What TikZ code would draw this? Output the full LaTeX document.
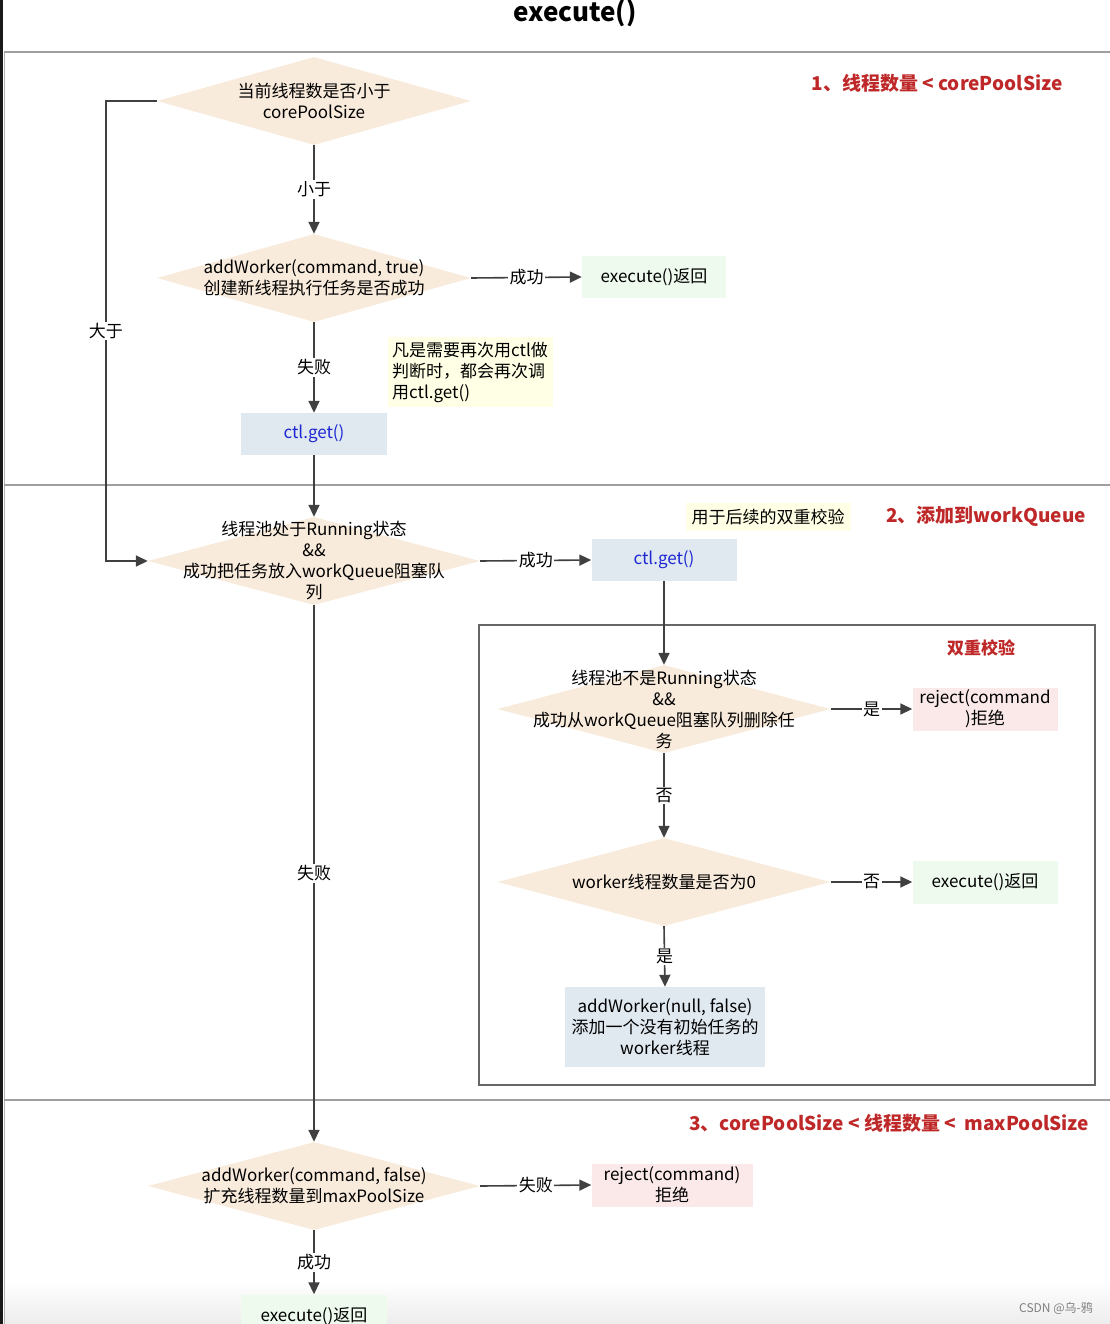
\documentclass[tikz,border=0pt]{standalone}
\usepackage{fontspec}
\setmainfont{Noto Sans CJK SC}
\usetikzlibrary{shapes.geometric,arrows.meta}
\definecolor{diafill}{RGB}{249,235,220}
\definecolor{bluefill}{RGB}{224,232,240}
\definecolor{greenfill}{RGB}{238,250,238}
\definecolor{pinkfill}{RGB}{251,233,233}
\definecolor{notefill}{RGB}{255,255,229}
\definecolor{linecol}{RGB}{64,64,64}
\definecolor{redtext}{RGB}{190,40,40}
\definecolor{bluetext}{RGB}{30,40,210}
\newcommand{\txtsize}{\fontsize{17}{21}\selectfont}
\newcommand{\redsize}{\fontsize{19}{23}\selectfont\bfseries}

\tikzset{
  decision/.style={diamond, fill=diafill, inner sep=0pt, minimum height=88},
  dlabel/.style={align=center, font=\txtsize, inner sep=0pt},
  box/.style={rectangle, minimum width=146, minimum height=42, align=center, font=\txtsize, inner sep=0pt},
  notebox/.style={rectangle, fill=notefill, align=left, font=\txtsize, inner sep=3pt},
  flow/.style={draw=linecol, line width=1.6pt, -{Triangle[length=12pt,width=11pt]}},
  elabel/.style={fill=white, inner sep=1.5pt, font=\txtsize},
  part/.style={draw=gray!75, line width=1.5pt},
  redlabel/.style={text=redtext, font=\redsize}
}

\begin{document}
\begin{tikzpicture}[x=1pt, y=-1pt]
\useasboundingbox (0,0) rectangle (1110,1324);
\shade[top color=white, bottom color=black!7] (4,1280) rectangle (1110,1324);
%frame
\fill[black!90] (0,0) rectangle (3,1324);
\draw[gray!60, line width=1pt] (4,52) -- (4,1324);
\draw[part] (4,52) -- (1110,52);
\draw[part] (4,485) -- (1110,485);
\draw[part] (4,1100) -- (1110,1100);
\draw[gray!80!black, line width=1.3pt] (479,625) rectangle (1095,1085);
\node[font=\fontsize{26}{30}\selectfont\bfseries] (title) at (575,13) {execute()};
\node[redlabel] (r1) at (937,83) {1、线程数量\ <\ corePoolSize};
\node[redlabel] (r2) at (986,516) {2、添加到workQueue};
\node[redlabel, font=\fontsize{17}{21}\selectfont\bfseries] (r3) at (981,648) {双重校验};
\node[redlabel] (r4) at (889,1123) {3、corePoolSize\ <\ 线程数量\ <\ \ maxPoolSize};
\node[text=gray, font=\fontsize{12}{14}\selectfont] (mark) at (1056,1308) {CSDN @乌-鸦};

%section 1
\node[decision, minimum width=314, label={[dlabel]center:{当前线程数是否小于\\corePoolSize}}] (d1) at (314,101) {};
\node[decision, minimum width=314, label={[dlabel]center:{addWorker(command, true)\\创建新线程执行任务是否成功}}] (d2) at (314,278) {};
\node[box, fill=greenfill, minimum width=144] (ok1) at (654,277) {execute()返回};
\node[box, fill=bluefill, text=bluetext] (ctl1) at (314,434) {ctl.get()};
\node[notebox, minimum width=165, minimum height=70] (note1) at (470,372) {凡是需要再次用ctl做\\判断时，都会再次调\\用ctl.get()};

%section 2
\node[decision, minimum width=332, label={[dlabel]center:{线程池处于Running状态\\\&\&\\成功把任务放入workQueue阻塞队\\列}}] (d3) at (314,561) {};
\node[box, fill=bluefill, text=bluetext, minimum width=145] (ctl2) at (664,560) {ctl.get()};
\node[notebox, minimum width=165, minimum height=28] (note2) at (768,517) {用于后续的双重校验};
\node[decision, minimum width=333, label={[dlabel]center:{线程池不是Running状态\\\&\&\\成功从workQueue阻塞队列删除任\\务}}] (d4) at (664,709) {};
\node[box, fill=pinkfill, minimum width=145, minimum height=43] (rej1) at (985,709) {reject(command\\)拒绝};
\node[decision, minimum width=333, label={[dlabel]center:{worker线程数量是否为0}}] (d5) at (664,882) {};
\node[box, fill=greenfill, minimum width=145, minimum height=43] (ok2) at (985,882) {execute()返回};
\node[box, fill=bluefill, minimum width=200, minimum height=80] (addnull) at (665,1027) {addWorker(null, false)\\添加一个没有初始任务的\\worker线程};

%section 3
\node[decision, minimum width=332, label={[dlabel]center:{addWorker(command, false)\\扩充线程数量到maxPoolSize}}] (d6) at (314,1186) {};
\node[box, fill=pinkfill, minimum width=161, minimum height=43] (rej2) at (672,1185) {reject(command)\\拒绝};
\node[box, fill=greenfill, minimum height=43] (ok3) at (314,1316) {execute()返回};

%connectors
\draw[flow] (d1.south) -- node[elabel] {小于} (d2.north);
\draw[flow] (d2.east) -- node[elabel] {成功} (ok1.west);
\draw[flow] (d2.south) -- node[elabel] {失败} (ctl1.north);
\draw[flow] (ctl1.south) -- (d3.north);
\draw[flow] (d1.west) -- ++(-51,0) |- node[elabel, pos=0.25] {大于} (d3.west);
\draw[flow] (d3.east) -- node[elabel] {成功} (ctl2.west);
\draw[flow] (ctl2.south) -- (d4.north);
\draw[flow] (d4.east) -- node[elabel] {是} (rej1.west);
\draw[flow] (d4.south) -- node[elabel] {否} (d5.north);
\draw[flow] (d5.east) -- node[elabel] {否} (ok2.west);
\draw[flow] (d5.south) -- node[elabel] {是} (addnull.north);
\draw[flow] (d3.south) -- node[elabel] {失败} (d6.north);
\draw[flow] (d6.east) -- node[elabel] {失败} (rej2.west);
\draw[flow] (d6.south) -- node[elabel] {成功} (ok3.north);
\end{tikzpicture}
\end{document}
